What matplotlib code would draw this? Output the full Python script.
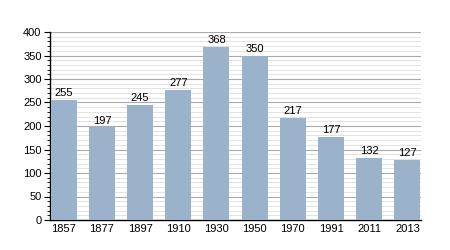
import matplotlib
matplotlib.use("Agg")
import matplotlib.pyplot as plt
from matplotlib.ticker import MultipleLocator

years = ["1857", "1877", "1897", "1910", "1930", "1950", "1970", "1991", "2011", "2013"]
values = [255, 197, 245, 277, 368, 350, 217, 177, 132, 127]

plt.rcParams['font.family'] = ['Liberation Sans', 'DejaVu Sans']
fig = plt.figure(figsize=(4.5, 2.5), dpi=100)
ax = fig.add_axes([0.111, 0.12, 0.825, 0.752])

x = range(len(years))
bars = ax.bar(x, values, width=0.68, color="#9bb2cb", zorder=3)
for xi, v in zip(x, values):
    ax.text(xi, v + 4, str(v), ha="center", va="bottom", fontsize=8, color="black", zorder=4)

ax.set_xlim(-0.36, 9.36)
ax.set_ylim(0, 400)
ax.yaxis.set_major_locator(MultipleLocator(50))
ax.yaxis.set_minor_locator(MultipleLocator(10))
ax.grid(which="major", axis="y", color="#aaaaaa", linewidth=0.8, zorder=1)
ax.grid(which="minor", axis="y", color="#dddddd", linewidth=0.6, zorder=0)
ax.set_xticks(list(x))
ax.set_xticklabels(years)
ax.tick_params(axis="x", length=0, labelsize=8, pad=3)
ax.tick_params(axis="y", which="major", length=4, width=0.8, labelsize=8, pad=2)
ax.tick_params(axis="y", which="minor", length=2, width=0.6)
for s in ["top", "right"]:
    ax.spines[s].set_visible(False)
ax.spines["left"].set_linewidth(1)
ax.spines["bottom"].set_linewidth(1)

fig.savefig("out.png", dpi=100)
